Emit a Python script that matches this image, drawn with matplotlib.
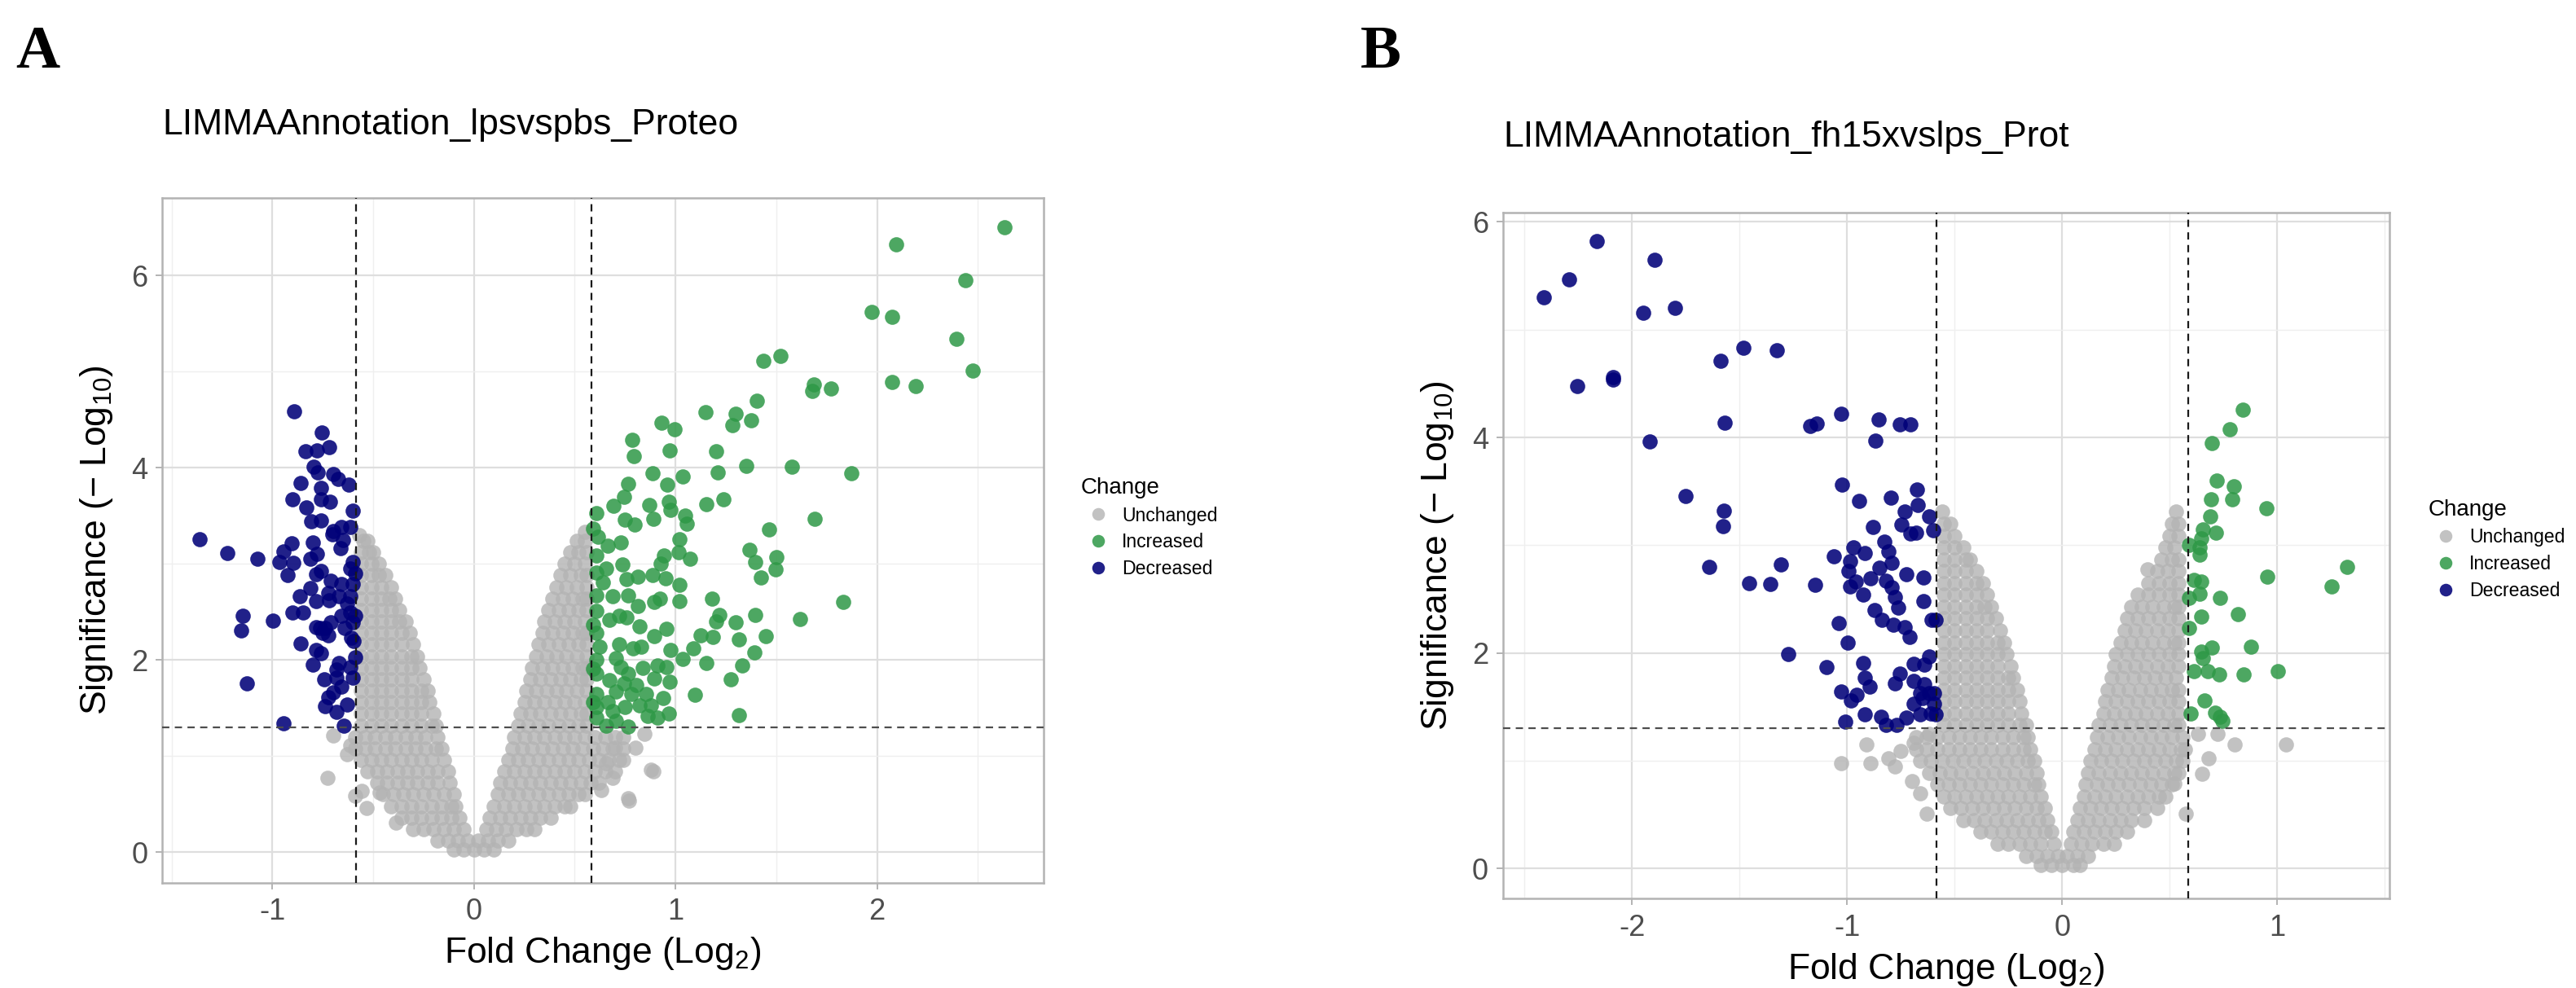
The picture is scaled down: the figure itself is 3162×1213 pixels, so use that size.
import matplotlib
matplotlib.use('Agg')
import matplotlib.pyplot as plt
from matplotlib.lines import Line2D

plt.rcParams['font.family'] = ['Liberation Sans', 'DejaVu Sans']
plt.rcParams['mathtext.fontset'] = 'custom'
plt.rcParams['mathtext.rm'] = 'Liberation Sans'
plt.rcParams['mathtext.it'] = 'Liberation Sans:italic'
plt.rcParams['axes.unicode_minus'] = False

# thresholds: |log2 FC| > log2(1.5), p < 0.05
FC_CUT = 0.585
P_CUT = 1.301

GREY = '#B3B3B3'
GREEN = '#2E9846'
BLUE = '#000078'
PT = 45

# ---------------- panel A : lps vs pbs ----------------
a_title = 'LIMMAAnnotation_lpsvspbs_Proteo'

a_down = [(-0.892, 4.59), (-0.754, 4.37), (-0.835, 4.17), (-0.777, 4.18), (-0.719, 4.21),
          (-0.794, 4.01), (-0.775, 3.95), (-0.696, 3.93), (-0.672, 3.88), (-0.621, 3.82),
          (-0.861, 3.84), (-0.760, 3.79), (-0.899, 3.67), (-0.757, 3.67), (-0.713, 3.65),
          (-0.831, 3.59), (-0.602, 3.55), (-0.807, 3.44), (-0.760, 3.45), (-0.696, 3.34),
          (-0.656, 3.38), (-0.615, 3.38), (-0.703, 3.31), (-1.360, 3.26), (-1.225, 3.11),
          (-1.072, 3.05), (-0.906, 3.21), (-0.945, 3.13), (-0.966, 3.02), (-0.895, 3.01),
          (-0.926, 2.88), (-0.798, 3.22), (-0.777, 3.10), (-0.811, 3.05), (-0.663, 3.16),
          (-0.649, 3.25), (-0.615, 2.95), (-0.588, 2.90), (-0.757, 2.93), (-0.784, 2.89),
          (-0.710, 2.82), (-0.656, 2.79), (-0.602, 2.79), (-0.811, 2.75), (-0.865, 2.66),
          (-0.724, 2.70), (-0.669, 2.66), (-0.615, 2.66), (-0.784, 2.61), (-0.717, 2.62),
          (-0.899, 2.49), (-0.848, 2.49), (-1.148, 2.46), (-1.155, 2.31), (-0.996, 2.41),
          (-0.784, 2.34), (-0.737, 2.33), (-0.750, 2.28), (-0.656, 2.46), (-0.615, 2.49),
          (-0.602, 2.39), (-0.642, 2.33), (-0.609, 2.23), (-0.724, 2.26), (-0.858, 2.17),
          (-0.784, 2.10), (-0.757, 2.07), (-0.798, 1.95), (-0.669, 1.97), (-0.615, 1.93),
          (-0.588, 2.03), (-0.744, 1.80), (-0.683, 1.82), (-0.602, 1.82), (-1.128, 1.76),
          (-0.724, 1.61), (-0.696, 1.66), (-0.737, 1.52), (-0.683, 1.46), (-0.629, 1.54),
          (-0.656, 1.72), (-0.946, 1.34), (-0.645, 1.32), (-0.602, 3.02), (-0.629, 2.59),
          (-0.588, 2.46), (-0.595, 2.20), (-0.683, 1.90), (-0.764, 2.33), (-0.710, 2.39)]

a_up = [(2.631, 6.50), (2.096, 6.32), (2.438, 5.95), (1.973, 5.62), (2.073, 5.57),
        (2.394, 5.34), (2.475, 5.01), (2.073, 4.89), (2.194, 4.85), (1.437, 5.11),
        (1.519, 5.16), (1.685, 4.87), (1.678, 4.80), (1.771, 4.82), (1.402, 4.70),
        (1.150, 4.58), (1.300, 4.56), (1.377, 4.49), (1.282, 4.44), (0.929, 4.47),
        (0.995, 4.40), (0.787, 4.29), (0.795, 4.12), (0.972, 4.18), (1.200, 4.17),
        (1.208, 3.95), (1.353, 4.02), (1.579, 4.01), (1.874, 3.94), (0.885, 3.94),
        (1.038, 3.91), (0.767, 3.83), (0.959, 3.82), (0.743, 3.70), (0.692, 3.60),
        (0.609, 3.53), (0.869, 3.61), (0.968, 3.65), (0.975, 3.56), (1.153, 3.62),
        (1.237, 3.67), (0.751, 3.46), (0.798, 3.41), (0.890, 3.47), (1.050, 3.50),
        (1.058, 3.42), (1.689, 3.47), (1.465, 3.36), (0.590, 3.37), (0.663, 3.19),
        (0.730, 3.22), (1.019, 3.26), (1.016, 3.12), (0.943, 3.09), (1.071, 3.05),
        (1.369, 3.15), (1.394, 3.02), (1.500, 3.07), (1.497, 2.94), (1.423, 2.86),
        (0.609, 3.09), (0.609, 2.91), (0.656, 2.95), (0.738, 2.99), (0.814, 2.87),
        (0.757, 2.84), (0.927, 3.00), (0.888, 2.88), (0.951, 2.85), (1.019, 2.78),
        (1.019, 2.61), (0.896, 2.60), (0.924, 2.64), (1.181, 2.64), (1.831, 2.60),
        (0.609, 2.67), (0.688, 2.66), (0.767, 2.67), (0.814, 2.56), (0.609, 2.51),
        (0.672, 2.42), (0.757, 2.44), (0.820, 2.35), (1.216, 2.47), (1.200, 2.40),
        (1.300, 2.39), (1.394, 2.47), (1.618, 2.43), (0.956, 2.32), (0.893, 2.25),
        (1.126, 2.26), (1.185, 2.24), (1.315, 2.21), (1.450, 2.25), (0.609, 2.28),
        (0.625, 2.14), (0.719, 2.16), (0.790, 2.12), (0.830, 2.14), (0.976, 2.10),
        (1.035, 2.01), (1.087, 2.12), (1.391, 2.08), (0.609, 2.00), (0.703, 2.02),
        (0.909, 1.94), (0.956, 1.93), (1.153, 1.97), (1.331, 1.94), (0.609, 1.86),
        (0.672, 1.79), (0.767, 1.86), (0.837, 1.92), (0.893, 1.81), (0.972, 1.77),
        (1.276, 1.80), (0.609, 1.65), (0.703, 1.67), (0.782, 1.65), (0.853, 1.65),
        (0.940, 1.60), (1.098, 1.64), (0.609, 1.51), (0.688, 1.47), (0.751, 1.51),
        (0.822, 1.53), (0.609, 1.40), (0.703, 1.37), (0.767, 1.31), (0.861, 1.42),
        (0.909, 1.40), (0.968, 1.44), (1.315, 1.43), (0.593, 2.37), (0.590, 1.91),
        (0.590, 1.56), (0.656, 1.32), (0.640, 2.81), (0.719, 2.46), (0.806, 1.74),
        (0.743, 1.76), (0.664, 1.56), (0.877, 1.53), (0.727, 1.93), (0.617, 3.28)]

# unchanged proteins, read row by row (y, [x, ...])
a_grey_rows = [
    (0.03, [-0.10, -0.05, 0.0, 0.05, 0.10]),
    (0.12, [-0.18, -0.13, -0.08, -0.03, 0.02, 0.07, 0.12, 0.17]),
    (0.24, [-0.30, -0.25, -0.20, -0.15, -0.10, -0.05, 0.06, 0.11, 0.16, 0.21, 0.26, 0.30]),
    (0.36, [-0.36, -0.31, -0.26, -0.21, -0.16, -0.11, -0.07, 0.08, 0.13, 0.18, 0.23, 0.28, 0.33, 0.38]),
    (0.48, [-0.41, -0.36, -0.31, -0.26, -0.21, -0.16, -0.11, -0.09, 0.10, 0.15, 0.20, 0.25, 0.30, 0.35,
            0.40, 0.45, 0.48]),
    (0.60, [-0.45, -0.40, -0.35, -0.30, -0.25, -0.20, -0.15, -0.10, 0.12, 0.17, 0.22, 0.27, 0.32, 0.37,
            0.42, 0.47, 0.52, 0.55]),
    (0.72, [-0.48, -0.43, -0.38, -0.33, -0.28, -0.23, -0.18, -0.12, 0.13, 0.18, 0.23, 0.28, 0.33, 0.38,
            0.43, 0.48, 0.53, 0.58, 0.62]),
    (0.84, [-0.53, -0.48, -0.43, -0.38, -0.33, -0.28, -0.23, -0.18, -0.13, 0.15, 0.20, 0.25, 0.30, 0.35,
            0.40, 0.45, 0.50, 0.55, 0.60, 0.65, 0.70]),
    (0.96, [-0.56, -0.51, -0.46, -0.41, -0.36, -0.31, -0.26, -0.21, -0.15, 0.17, 0.22, 0.27, 0.32, 0.37,
            0.42, 0.47, 0.52, 0.57, 0.62, 0.67, 0.72, 0.74]),
    (1.08, [-0.59, -0.54, -0.49, -0.44, -0.39, -0.34, -0.29, -0.24, -0.19, -0.16, 0.19, 0.24, 0.29, 0.34,
            0.39, 0.44, 0.49, 0.54, 0.59, 0.64, 0.69, 0.74]),
    (1.20, [-0.59, -0.54, -0.49, -0.44, -0.39, -0.34, -0.29, -0.24, -0.18, 0.20, 0.25, 0.30, 0.35, 0.40,
            0.45, 0.50, 0.55, 0.60, 0.65, 0.70, 0.74]),
    (1.32, [-0.56, -0.51, -0.46, -0.41, -0.36, -0.31, -0.26, -0.21, -0.19, 0.22, 0.27, 0.32, 0.37, 0.42,
            0.47, 0.52, 0.56]),
    (1.44, [-0.56, -0.51, -0.46, -0.41, -0.36, -0.31, -0.26, -0.20, 0.23, 0.28, 0.33, 0.38, 0.43, 0.48,
            0.53, 0.56]),
    (1.56, [-0.56, -0.51, -0.46, -0.41, -0.36, -0.31, -0.26, -0.22, 0.25, 0.30, 0.35, 0.40, 0.45, 0.50, 0.55]),
    (1.68, [-0.56, -0.51, -0.46, -0.41, -0.36, -0.31, -0.26, -0.23, 0.26, 0.31, 0.36, 0.41, 0.46, 0.51, 0.56]),
    (1.80, [-0.56, -0.51, -0.46, -0.41, -0.36, -0.31, -0.25, 0.28, 0.33, 0.38, 0.43, 0.48, 0.53, 0.56]),
    (1.92, [-0.56, -0.51, -0.46, -0.41, -0.36, -0.31, -0.27, 0.29, 0.34, 0.39, 0.44, 0.49, 0.54, 0.56]),
    (2.04, [-0.56, -0.51, -0.46, -0.41, -0.36, -0.31, -0.28, 0.31, 0.36, 0.41, 0.46, 0.51, 0.56]),
    (2.16, [-0.56, -0.51, -0.46, -0.41, -0.36, -0.30, 0.32, 0.37, 0.42, 0.47, 0.52, 0.56]),
    (2.28, [-0.56, -0.51, -0.46, -0.41, -0.36, -0.32, 0.34, 0.39, 0.44, 0.49, 0.54, 0.56]),
    (2.40, [-0.56, -0.51, -0.46, -0.41, -0.37, -0.34, 0.35, 0.40, 0.45, 0.50, 0.55]),
    (2.52, [-0.56, -0.51, -0.46, -0.41, -0.37, 0.37, 0.42, 0.47, 0.52, 0.56]),
    (2.64, [-0.56, -0.51, -0.46, -0.42, -0.39, 0.39, 0.44, 0.49, 0.54, 0.56]),
    (2.76, [-0.56, -0.51, -0.46, -0.41, 0.41, 0.46, 0.51, 0.56]),
    (2.88, [-0.56, -0.51, -0.47, -0.44, 0.43, 0.48, 0.53, 0.56]),
    (3.00, [-0.56, -0.51, -0.47, 0.45, 0.50, 0.55]),
    (3.12, [-0.56, -0.52, -0.50, 0.48, 0.52, 0.56]),
    (3.24, [-0.55, -0.53, 0.51, 0.55]),
]
a_grey_extra = [(-0.70, 1.21), (-0.615, 1.11), (-0.63, 1.02), (-0.726, 0.77), (-0.555, 0.64),
                (-0.588, 0.59), (-0.534, 0.46), (-0.467, 0.62), (-0.386, 0.31), (0.877, 0.86),
                (0.767, 0.56), (0.688, 0.77), (0.63, 0.65), (0.845, 1.23), (0.80, 1.09),
                (0.70, 1.09), (0.656, 0.93), (0.77, 0.54), (0.89, 0.84), (-0.57, 3.30), (0.55, 3.33)]

# ---------------- panel B : fh15x vs lps ----------------
b_title = 'LIMMAAnnotation_fh15xvslps_Prot'

b_down = [(-2.164, 5.82), (-1.896, 5.65), (-2.295, 5.47), (-2.411, 5.30), (-1.949, 5.16),
          (-1.800, 5.20), (-1.482, 4.83), (-1.329, 4.81), (-1.588, 4.71), (-2.255, 4.48),
          (-2.087, 4.54), (-2.087, 4.56), (-1.569, 4.14), (-1.173, 4.11), (-1.141, 4.13),
          (-1.029, 4.22), (-0.853, 4.17), (-0.868, 3.97), (-0.756, 4.12), (-0.708, 4.12),
          (-1.917, 3.96), (-1.750, 3.46), (-1.025, 3.56), (-0.945, 3.41), (-0.797, 3.44),
          (-0.676, 3.52), (-1.572, 3.32), (-1.579, 3.18), (-0.734, 3.31), (-0.673, 3.37),
          (-0.621, 3.27), (-0.749, 3.19), (-0.705, 3.11), (-0.679, 3.12), (-0.601, 3.14),
          (-0.880, 3.17), (-0.829, 3.03), (-0.970, 2.98), (-0.920, 2.93), (-0.807, 2.94),
          (-1.061, 2.90), (-0.988, 2.85), (-1.640, 2.80), (-1.308, 2.82), (-1.456, 2.65),
          (-1.356, 2.64), (-1.148, 2.63), (-0.996, 2.76), (-0.851, 2.79), (-0.792, 2.84),
          (-0.727, 2.73), (-0.644, 2.70), (-0.890, 2.69), (-0.819, 2.67), (-0.959, 2.66),
          (-0.988, 2.62), (-0.792, 2.61), (-0.926, 2.54), (-0.778, 2.52), (-0.763, 2.42),
          (-0.647, 2.48), (-0.872, 2.40), (-0.839, 2.31), (-0.607, 2.31), (-0.589, 2.31),
          (-1.039, 2.28), (-0.785, 2.26), (-0.734, 2.24), (-0.711, 2.15), (-0.999, 2.10),
          (-1.276, 1.99), (-1.097, 1.87), (-0.926, 1.91), (-0.691, 1.90), (-0.618, 1.97),
          (-0.640, 1.89), (-0.756, 1.81), (-0.920, 1.77), (-0.897, 1.69), (-0.778, 1.72),
          (-0.691, 1.74), (-0.640, 1.71), (-0.597, 1.63), (-1.028, 1.64), (-0.955, 1.61),
          (-0.981, 1.56), (-0.691, 1.53), (-0.648, 1.58), (-0.597, 1.53), (-0.919, 1.43),
          (-0.843, 1.41), (-1.010, 1.36), (-0.819, 1.33), (-0.771, 1.33), (-0.727, 1.40),
          (-0.662, 1.43), (-0.611, 1.44), (-0.589, 1.43), (-0.618, 1.63), (-0.662, 1.63)]

b_up = [(0.841, 4.26), (0.780, 4.08), (0.697, 3.95), (0.717, 3.60), (0.799, 3.55),
        (0.789, 3.43), (0.692, 3.43), (0.950, 3.34), (0.689, 3.27), (0.653, 3.15),
        (0.714, 3.12), (0.646, 3.06), (0.590, 3.00), (0.638, 2.98), (0.638, 2.91),
        (1.323, 2.80), (0.951, 2.71), (1.251, 2.62), (0.610, 2.68), (0.646, 2.66),
        (0.638, 2.55), (0.588, 2.51), (0.732, 2.51), (0.818, 2.36), (0.646, 2.34),
        (0.590, 2.23), (0.878, 2.06), (0.696, 2.05), (0.646, 2.01), (0.653, 1.95),
        (0.677, 1.83), (0.610, 1.83), (0.729, 1.80), (0.844, 1.80), (1.001, 1.83),
        (0.660, 1.56), (0.595, 1.44), (0.710, 1.45), (0.732, 1.41), (0.746, 1.37)]

b_grey_rows = [
    (0.03, [-0.10, -0.05, 0.0, 0.05, 0.08]),
    (0.12, [-0.17, -0.12, -0.07, -0.02, 0.02, 0.07, 0.12]),
    (0.23, [-0.30, -0.25, -0.20, -0.15, -0.10, -0.04, 0.04, 0.09, 0.14, 0.19, 0.24]),
    (0.34, [-0.38, -0.33, -0.28, -0.23, -0.18, -0.13, -0.08, -0.05, 0.05, 0.10, 0.15, 0.20, 0.25, 0.30]),
    (0.45, [-0.46, -0.41, -0.36, -0.31, -0.26, -0.21, -0.16, -0.11, -0.07, 0.07, 0.12, 0.17, 0.22, 0.27,
            0.32, 0.38]),
    (0.56, [-0.52, -0.47, -0.42, -0.37, -0.32, -0.27, -0.22, -0.17, -0.12, -0.08, 0.08, 0.13, 0.18, 0.23,
            0.28, 0.33, 0.38, 0.44]),
    (0.67, [-0.55, -0.50, -0.45, -0.40, -0.35, -0.30, -0.25, -0.20, -0.15, -0.10, 0.10, 0.15, 0.20, 0.25,
            0.30, 0.35, 0.40, 0.45, 0.48]),
    (0.78, [-0.58, -0.53, -0.48, -0.43, -0.38, -0.33, -0.28, -0.23, -0.18, -0.13, -0.11, 0.11, 0.16, 0.21,
            0.26, 0.31, 0.36, 0.41, 0.46, 0.51]),
    (0.89, [-0.62, -0.57, -0.52, -0.47, -0.42, -0.37, -0.32, -0.27, -0.22, -0.17, -0.12, 0.12, 0.17, 0.22,
            0.27, 0.32, 0.37, 0.42, 0.47, 0.52, 0.54]),
    (1.00, [-0.66, -0.61, -0.56, -0.51, -0.46, -0.41, -0.36, -0.31, -0.26, -0.21, -0.16, -0.13, 0.13, 0.18,
            0.23, 0.28, 0.33, 0.38, 0.43, 0.48, 0.53, 0.56]),
    (1.11, [-0.68, -0.63, -0.58, -0.53, -0.48, -0.43, -0.38, -0.33, -0.28, -0.23, -0.18, -0.15, 0.15, 0.20,
            0.25, 0.30, 0.35, 0.40, 0.45, 0.50, 0.55, 0.57]),
    (1.22, [-0.68, -0.63, -0.58, -0.53, -0.48, -0.43, -0.38, -0.33, -0.28, -0.23, -0.18, -0.16, 0.16, 0.21,
            0.26, 0.31, 0.36, 0.41, 0.46, 0.51, 0.56]),
    (1.33, [-0.55, -0.50, -0.45, -0.40, -0.35, -0.30, -0.25, -0.20, -0.17, 0.17, 0.22, 0.27, 0.32, 0.37,
            0.42, 0.47, 0.52, 0.54]),
    (1.44, [-0.55, -0.50, -0.45, -0.40, -0.35, -0.30, -0.25, -0.19, 0.19, 0.24, 0.29, 0.34, 0.39, 0.44,
            0.49, 0.54]),
    (1.55, [-0.55, -0.50, -0.45, -0.40, -0.35, -0.30, -0.25, -0.20, 0.20, 0.25, 0.30, 0.35, 0.40, 0.45,
            0.50, 0.54]),
    (1.66, [-0.55, -0.50, -0.45, -0.40, -0.35, -0.30, -0.25, -0.21, 0.21, 0.26, 0.31, 0.36, 0.41, 0.46,
            0.51, 0.54]),
    (1.77, [-0.55, -0.50, -0.45, -0.40, -0.35, -0.30, -0.25, -0.23, 0.23, 0.28, 0.33, 0.38, 0.43, 0.48, 0.53]),
    (1.88, [-0.55, -0.50, -0.45, -0.40, -0.35, -0.30, -0.24, 0.24, 0.29, 0.34, 0.39, 0.44, 0.49, 0.54]),
    (1.99, [-0.55, -0.50, -0.45, -0.40, -0.35, -0.30, -0.26, 0.25, 0.30, 0.35, 0.40, 0.45, 0.50, 0.54]),
    (2.10, [-0.55, -0.50, -0.45, -0.40, -0.35, -0.30, -0.27, 0.27, 0.32, 0.37, 0.42, 0.47, 0.52, 0.54]),
    (2.21, [-0.55, -0.50, -0.45, -0.40, -0.35, -0.29, 0.29, 0.34, 0.39, 0.44, 0.49, 0.54]),
    (2.32, [-0.55, -0.50, -0.45, -0.40, -0.35, -0.31, 0.30, 0.35, 0.40, 0.45, 0.50, 0.54]),
    (2.43, [-0.55, -0.50, -0.45, -0.40, -0.36, -0.33, 0.32, 0.37, 0.42, 0.47, 0.52, 0.54]),
    (2.54, [-0.55, -0.50, -0.45, -0.40, -0.35, 0.35, 0.40, 0.45, 0.50, 0.54]),
    (2.65, [-0.55, -0.50, -0.45, -0.40, -0.37, 0.40, 0.45, 0.50, 0.54]),
    (2.76, [-0.55, -0.50, -0.45, -0.40, 0.44, 0.49, 0.54]),
    (2.87, [-0.55, -0.50, -0.45, -0.43, 0.46, 0.51, 0.54]),
    (2.98, [-0.55, -0.50, -0.46, 0.48, 0.52]),
    (3.09, [-0.55, -0.50, 0.50, 0.54]),
    (3.20, [-0.55, -0.52, 0.51, 0.54]),
    (3.31, [-0.56, 0.53]),
]
b_grey_extra = [(-1.03, 0.98), (-0.91, 1.15), (-0.89, 0.98), (-0.81, 1.02), (-0.75, 1.09),
                (-0.70, 0.81), (-0.69, 1.17), (-0.63, 0.51), (-0.78, 0.95), (-0.62, 1.25),
                (-0.66, 0.70), (0.80, 1.15), (1.04, 1.15), (0.68, 1.02), (0.65, 0.88),
                (0.574, 0.51), (0.63, 1.25), (0.72, 1.25), (0.52, 0.79), (0.395, 2.78)]


def volcano(ax, grey_rows, grey_extra, up, down, xlim, ylim, xmajor, xminor):
    gx = [x for y, xs in grey_rows for x in xs] + [p[0] for p in grey_extra]
    gy = [y for y, xs in grey_rows for x in xs] + [p[1] for p in grey_extra]
    ax.scatter(gx, gy, s=PT, color=GREY, alpha=0.8, linewidths=0, zorder=2)
    ax.scatter([p[0] for p in up], [p[1] for p in up], s=PT, color=GREEN, alpha=0.85,
               linewidths=0, zorder=3)
    ax.scatter([p[0] for p in down], [p[1] for p in down], s=PT, color=BLUE, alpha=0.87,
               linewidths=0, zorder=3)

    ax.axvline(-FC_CUT, color='#1a1a1a', lw=0.8, ls=(0, (4, 3)), zorder=4)
    ax.axvline(FC_CUT, color='#1a1a1a', lw=0.8, ls=(0, (4, 3)), zorder=4)
    ax.axhline(P_CUT, color='#4d4d4d', lw=0.8, ls=(0, (4, 3)), zorder=4)

    ax.set_xlim(*xlim)
    ax.set_ylim(*ylim)
    ax.set_xticks(xmajor)
    ax.set_xticklabels([str(v) for v in xmajor])
    ax.set_xticks(xminor, minor=True)
    ax.set_yticks([0, 2, 4, 6])
    ax.set_yticks([1, 3, 5], minor=True)
    ax.set_axisbelow(True)
    ax.grid(which='major', color='#DEDEDE', lw=0.8)
    ax.grid(which='minor', color='#EFEFEF', lw=0.5)
    for sp in ax.spines.values():
        sp.set_color('#B3B3B3')
        sp.set_linewidth(0.9)
    ax.tick_params(which='major', length=3, width=0.7, color='#B3B3B3', labelsize=13,
                   labelcolor='#4D4D4D', pad=3.5)
    ax.tick_params(which='minor', length=0)
    ax.set_xlabel('Fold Change (Log$_2$)', fontsize=16, labelpad=4)
    ax.set_ylabel('Significance (\u2212 Log$_{10}$)', fontsize=16, labelpad=7)


def add_legend(ax, x, y):
    handles = [Line2D([], [], ls='', marker='o', color=c, alpha=a, markersize=5.6, markeredgewidth=0)
               for c, a in [(GREY, 0.8), (GREEN, 0.85), (BLUE, 0.87)]]
    ax.legend(handles, ['Unchanged', 'Increased', 'Decreased'], title='Change',
              loc='upper left', bbox_to_anchor=(x, y), bbox_transform=ax.figure.transFigure,
              frameon=False, fontsize=8.3, title_fontsize=10, alignment='left',
              borderpad=0, borderaxespad=0, handlelength=1.9, handletextpad=0.3,
              labelspacing=0.42)


fig = plt.figure(figsize=(15.81, 6.065), dpi=200)

ax_a = fig.add_axes([0.0630, 0.1063, 0.342, 0.6937])
volcano(ax_a, a_grey_rows, a_grey_extra, a_up, a_down,
        (-1.546, 2.825), (-0.32, 6.81), [-1, 0, 1, 2], [-1.5, -0.5, 0.5, 1.5, 2.5])
add_legend(ax_a, 0.4195, 0.517)
fig.text(0.063, 0.864, a_title, fontsize=16, va='baseline', ha='left')
fig.text(0.006, 0.9316, 'A', fontsize=27, fontweight='bold', va='baseline', ha='left',
         family=['Liberation Serif', 'DejaVu Serif'])

ax_b = fig.add_axes([0.5835, 0.0903, 0.344, 0.6949])
volcano(ax_b, b_grey_rows, b_grey_extra, b_up, b_down,
        (-2.6, 1.52), (-0.28, 6.09), [-2, -1, 0, 1], [-2.5, -1.5, -0.5, 0.5, 1.5])
add_legend(ax_b, 0.9425, 0.495)
fig.text(0.5835, 0.852, b_title, fontsize=16, va='baseline', ha='left')
fig.text(0.528, 0.9316, 'B', fontsize=27, fontweight='bold', va='baseline', ha='left',
         family=['Liberation Serif', 'DejaVu Serif'])

fig.savefig('out.png', dpi=200, facecolor='white')
